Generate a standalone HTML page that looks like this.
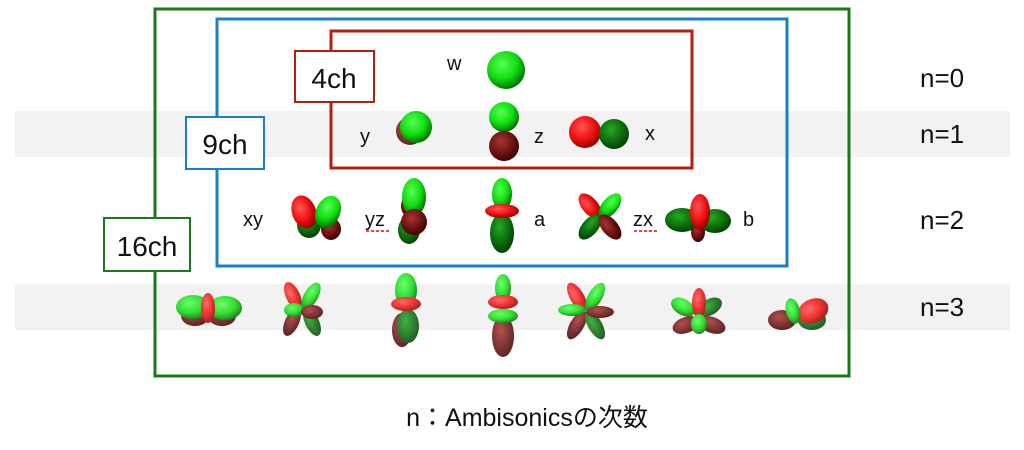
<!DOCTYPE html>
<html><head><meta charset="utf-8"><style>
html,body{margin:0;padding:0;background:#fff;width:1024px;height:450px;overflow:hidden}
text{font-family:"Liberation Sans","Noto Sans CJK JP",sans-serif;fill:#111}
</style></head><body>
<svg width="1024" height="450" viewBox="0 0 1024 450" xmlns="http://www.w3.org/2000/svg">
<defs>
<radialGradient id="g" cx="40%" cy="35%" r="65%"><stop offset="0" stop-color="#5f5"/><stop offset="0.6" stop-color="#1d1"/><stop offset="1" stop-color="#070"/></radialGradient>
<radialGradient id="dg" cx="40%" cy="35%" r="65%"><stop offset="0" stop-color="#2a2"/><stop offset="1" stop-color="#040"/></radialGradient>
<radialGradient id="r" cx="40%" cy="35%" r="65%"><stop offset="0" stop-color="#f55"/><stop offset="0.6" stop-color="#e11"/><stop offset="1" stop-color="#900"/></radialGradient>
<radialGradient id="dr" cx="40%" cy="35%" r="65%"><stop offset="0" stop-color="#a33"/><stop offset="1" stop-color="#400"/></radialGradient>
</defs>
<rect x="15" y="111" width="995" height="46" fill="#f2f2f2"/>
<rect x="15" y="284" width="995" height="46" fill="#f2f2f2"/>
<rect x="155" y="9" width="694" height="367" fill="none" stroke="#1a7a1a" stroke-width="3"/>
<rect x="217" y="19" width="570" height="247" fill="none" stroke="#1a7fc4" stroke-width="3"/>
<rect x="331" y="31" width="361" height="137" fill="none" stroke="#b32010" stroke-width="3"/>
<rect x="295" y="51" width="79" height="51" fill="#fff" stroke="#b32010" stroke-width="2"/>
<text x="334" y="88" font-size="28" text-anchor="middle">4ch</text>
<rect x="186" y="117" width="78" height="52" fill="#fff" stroke="#1a7fc4" stroke-width="2"/>
<text x="225" y="154" font-size="28" text-anchor="middle">9ch</text>
<rect x="104" y="218" width="86" height="53" fill="#fff" stroke="#1a7a1a" stroke-width="2"/>
<text x="147" y="256" font-size="28" text-anchor="middle">16ch</text>
<g font-size="26"><text x="920" y="87">n=0</text><text x="920" y="143">n=1</text><text x="920" y="229">n=2</text><text x="920" y="316">n=3</text></g>
<text x="527" y="426" font-size="25" text-anchor="middle">n：Ambisonicsの次数</text>
<g font-size="20">
<text x="447" y="70">w</text><text x="360" y="143">y</text><text x="534" y="143">z</text><text x="645" y="140">x</text>
<text x="243" y="226">xy</text><text x="365" y="226">yz</text><text x="534" y="226">a</text><text x="633" y="226">zx</text><text x="743" y="226">b</text>
</g>
<line x1="366" y1="231" x2="389" y2="231" stroke="#e44" stroke-width="2" stroke-dasharray="3,2"/>
<line x1="634" y1="231" x2="657" y2="231" stroke="#e44" stroke-width="2" stroke-dasharray="3,2"/>
<circle cx="506" cy="70" r="19" fill="url(#g)"/>
<circle cx="410" cy="131" r="14" fill="url(#dr)" opacity=".85"/>
<circle cx="416" cy="127" r="16" fill="url(#g)"/>
<circle cx="504" cy="117" r="15" fill="url(#g)"/>
<circle cx="504" cy="146" r="15" fill="url(#dr)"/>
<circle cx="585" cy="132" r="16" fill="url(#r)"/>
<circle cx="614" cy="134" r="15" fill="url(#dg)"/>
<ellipse cx="309" cy="225" rx="12" ry="13" fill="url(#dg)"/>
<ellipse cx="331" cy="229" rx="10" ry="11" fill="url(#dr)"/>
<ellipse cx="304" cy="212" rx="12" ry="17" fill="url(#r)" transform="rotate(-20 304 212)"/>
<ellipse cx="328" cy="212" rx="12" ry="17" fill="url(#g)" transform="rotate(25 328 212)"/>
<ellipse cx="409" cy="230" rx="11" ry="14" fill="url(#dg)"/>
<ellipse cx="408" cy="206" rx="7" ry="10" fill="url(#dr)"/>
<ellipse cx="414" cy="197" rx="12" ry="19" fill="url(#g)"/>
<circle cx="414" cy="222" r="13" fill="url(#dr)"/>
<ellipse cx="502" cy="194" rx="10" ry="16" fill="url(#g)"/>
<ellipse cx="502" cy="233" rx="12" ry="20" fill="url(#dg)"/>
<ellipse cx="502" cy="211" rx="17" ry="7" fill="url(#r)"/>
<ellipse cx="590" cy="206" rx="8" ry="15" fill="url(#r)" transform="rotate(-40 590 206)"/>
<ellipse cx="610" cy="206" rx="8" ry="15" fill="url(#g)" transform="rotate(40 610 206)"/>
<ellipse cx="590" cy="227" rx="8" ry="15" fill="url(#dg)" transform="rotate(40 590 227)"/>
<ellipse cx="610" cy="227" rx="8" ry="15" fill="url(#dr)" transform="rotate(-40 610 227)"/>
<ellipse cx="698" cy="232" rx="7" ry="10" fill="url(#dr)"/>
<ellipse cx="682" cy="220" rx="17" ry="12" fill="url(#dg)"/>
<ellipse cx="715" cy="221" rx="16" ry="12" fill="url(#dg)"/>
<ellipse cx="700" cy="212" rx="10" ry="18" fill="url(#r)"/>
<g opacity=".85">
<ellipse cx="195" cy="316" rx="14" ry="10" fill="url(#dr)"/><ellipse cx="222" cy="316" rx="14" ry="10" fill="url(#dr)"/>
<ellipse cx="193" cy="307" rx="17" ry="12" fill="url(#g)"/><ellipse cx="225" cy="308" rx="17" ry="12" fill="url(#g)"/>
<ellipse cx="208" cy="308" rx="7" ry="15" fill="url(#r)"/>
<ellipse cx="293" cy="296" rx="7" ry="15" fill="url(#r)" transform="rotate(-25 293 296)"/>
<ellipse cx="311" cy="296" rx="7" ry="15" fill="url(#g)" transform="rotate(30 311 296)"/>
<ellipse cx="292" cy="322" rx="7" ry="15" fill="url(#dr)" transform="rotate(25 292 322)"/>
<ellipse cx="312" cy="322" rx="7" ry="15" fill="url(#dg)" transform="rotate(-25 312 322)"/>
<ellipse cx="294" cy="310" rx="10" ry="7" fill="url(#g)"/><ellipse cx="312" cy="312" rx="11" ry="7" fill="url(#dr)"/>
<ellipse cx="406" cy="290" rx="11" ry="17" fill="url(#g)"/>
<ellipse cx="402" cy="330" rx="10" ry="17" fill="url(#dr)"/>
<ellipse cx="408" cy="326" rx="11" ry="17" fill="url(#dg)"/>
<ellipse cx="406" cy="304" rx="15" ry="7" fill="url(#r)"/>
<ellipse cx="503" cy="288" rx="8" ry="14" fill="url(#g)"/>
<ellipse cx="503" cy="336" rx="11" ry="21" fill="url(#dr)"/>
<ellipse cx="503" cy="302" rx="15" ry="7" fill="url(#r)"/>
<ellipse cx="503" cy="316" rx="15" ry="7" fill="url(#g)"/>
<ellipse cx="577" cy="297" rx="7" ry="16" fill="url(#r)" transform="rotate(-30 577 297)"/>
<ellipse cx="595" cy="297" rx="7" ry="16" fill="url(#g)" transform="rotate(30 595 297)"/>
<ellipse cx="577" cy="325" rx="7" ry="16" fill="url(#dr)" transform="rotate(30 577 325)"/>
<ellipse cx="595" cy="325" rx="7" ry="16" fill="url(#dg)" transform="rotate(-30 595 325)"/>
<ellipse cx="572" cy="310" rx="14" ry="6" fill="url(#g)"/><ellipse cx="600" cy="312" rx="14" ry="6" fill="url(#dr)"/>
<ellipse cx="683" cy="307" rx="13" ry="8" fill="url(#g)" transform="rotate(30 683 307)"/>
<ellipse cx="710" cy="307" rx="13" ry="8" fill="url(#dg)" transform="rotate(-30 710 307)"/>
<ellipse cx="686" cy="325" rx="14" ry="8" fill="url(#dr)" transform="rotate(-20 686 325)"/>
<ellipse cx="712" cy="325" rx="14" ry="8" fill="url(#dr)" transform="rotate(20 712 325)"/>
<ellipse cx="699" cy="303" rx="7" ry="15" fill="url(#r)"/>
<ellipse cx="699" cy="324" rx="8" ry="10" fill="url(#g)"/>
<ellipse cx="782" cy="320" rx="14" ry="10" fill="url(#dr)"/>
<ellipse cx="812" cy="320" rx="14" ry="10" fill="url(#dg)"/>
<ellipse cx="813" cy="311" rx="16" ry="12" fill="url(#r)" transform="rotate(-25 813 311)"/>
<ellipse cx="793" cy="311" rx="7" ry="13" fill="url(#g)" transform="rotate(-15 793 311)"/>
</g>
</svg>
</body></html>
